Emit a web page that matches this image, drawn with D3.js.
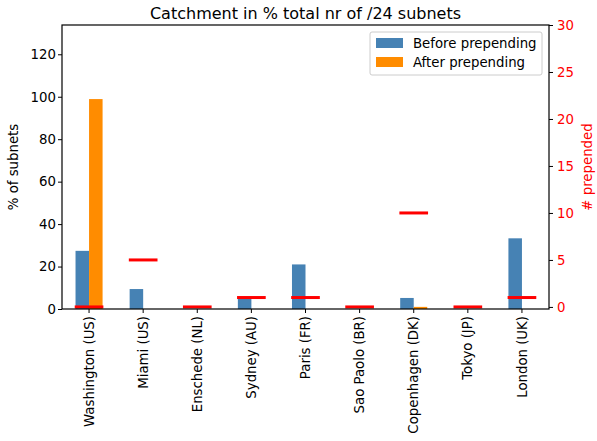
<!DOCTYPE html>
<html>
<head>
<meta charset="utf-8">
<script src="https://cdn.jsdelivr.net/npm/d3@7"></script>
<style>
  body { margin: 0; background: #fff; }
  svg text { font-family: "DejaVu Sans", sans-serif; }
</style>
</head>
<body>
<svg id="chart" width="597" height="441"></svg>
<script>
// data
var sites = ["Washington (US)", "Miami (US)", "Enschede (NL)", "Sydney (AU)", "Paris (FR)",
             "Sao Paolo (BR)", "Copenhagen (DK)", "Tokyo (JP)", "London (UK)"];
var before = [27.4, 9.4, 0, 4.9, 21, 0, 5.2, 0, 33.3];
var after = [98.9, 0, 0, 0, 0, 0, 1, 0, 0];
var prepended = [0, 5, 0, 1, 1, 0, 10, 0, 1];
var leftTicks = [0, 20, 40, 60, 80, 100, 120];
var rightTicks = [0, 5, 10, 15, 20, 25, 30];

var margin = {left: 62, right: 48, top: 25, bottom: 132},
    W = 597, H = 441,
    x0 = margin.left, x1 = W - margin.right,
    y0 = H - margin.bottom, y1 = margin.top,
    fs = "13.3px";

var svg = d3.select("#chart");

var x = d3.scaleBand().domain(d3.range(sites.length)).range([x0, x1]).padding(0);
var step = x.step();
var cx = i => x(i) + step / 2;
var yL = d3.scaleLinear().domain([0, 133.8]).range([y0, y1]);
var yR = d3.scaleLinear().domain([-0.22, 30]).range([y0, y1]);

// bars
svg.append("g").selectAll("rect.before").data(before).enter().append("rect")
    .attr("x", (d, i) => cx(i) - step * 0.25)
    .attr("width", step * 0.25)
    .attr("y", d => yL(d))
    .attr("height", d => y0 - yL(d))
    .attr("fill", "steelblue");
svg.append("g").selectAll("rect.after").data(after).enter().append("rect")
    .attr("x", (d, i) => cx(i))
    .attr("width", step * 0.25)
    .attr("y", d => yL(d))
    .attr("height", d => y0 - yL(d))
    .attr("fill", "darkorange");

// red level markers on the right axis
svg.append("g").selectAll("line").data(prepended).enter().append("line")
    .attr("x1", (d, i) => cx(i) - step * 0.265)
    .attr("x2", (d, i) => cx(i) + step * 0.265)
    .attr("y1", d => yR(d))
    .attr("y2", d => yR(d))
    .attr("stroke", "red")
    .attr("stroke-width", 3);

// frame
svg.append("rect").attr("x", x0).attr("y", y1).attr("width", x1 - x0).attr("height", y0 - y1)
    .attr("fill", "none").attr("stroke", "#000").attr("stroke-width", 1.2);

// axes
var gx = svg.append("g").attr("transform", `translate(0,${y0})`)
    .call(d3.axisBottom(x).tickSize(4).tickFormat(i => sites[i]));
gx.selectAll("text")
    .attr("transform", "rotate(-90)")
    .attr("text-anchor", "end")
    .attr("x", -7).attr("y", 0).attr("dy", "0.35em")
    .style("font-size", fs).attr("fill", "#000");

var gl = svg.append("g").attr("transform", `translate(${x0},0)`)
    .call(d3.axisLeft(yL).tickValues(leftTicks).tickSize(4).tickPadding(2));
gl.selectAll("text").style("font-size", fs).attr("fill", "#000");

var gr = svg.append("g").attr("transform", `translate(${x1},0)`)
    .call(d3.axisRight(yR).tickValues(rightTicks).tickSize(4).tickPadding(4));
gr.selectAll("text").style("font-size", fs).attr("fill", "red");
gr.selectAll("line").attr("stroke", "#000");

[gx, gl, gr].forEach(g => g.select(".domain").remove());

// labels
svg.append("text").attr("x", (x0 + x1) / 2).attr("y", 19).attr("text-anchor", "middle")
    .style("font-size", "16px").text("Catchment in % total nr of /24 subnets");
svg.append("text").attr("transform", `translate(18,${(y0 + y1) / 2}) rotate(-90)`)
    .attr("text-anchor", "middle").style("font-size", fs).text("% of subnets");
svg.append("text").attr("transform", `translate(592,${(y0 + y1) / 2}) rotate(-90)`)
    .attr("text-anchor", "middle").style("font-size", fs).attr("fill", "red").text("# prepended");

// legend
var lg = svg.append("g").attr("transform", "translate(370,32)");
lg.append("rect").attr("width", 172).attr("height", 43).attr("rx", 2)
    .attr("fill", "#fff").attr("fill-opacity", 0.8).attr("stroke", "#ccc");
[["Before prepending", "steelblue"], ["After prepending", "darkorange"]].forEach((d, i) => {
    lg.append("rect").attr("x", 6).attr("y", 6 + i * 19).attr("width", 27).attr("height", 10).attr("fill", d[1]);
    lg.append("text").attr("x", 43).attr("y", 16 + i * 19).style("font-size", fs).text(d[0]);
});
</script>
</body>
</html>
